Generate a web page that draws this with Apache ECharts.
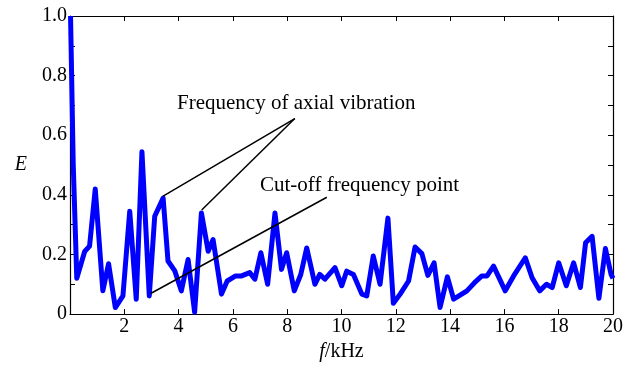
<!DOCTYPE html>
<html>
<head>
<meta charset="utf-8">
<script src="https://cdn.jsdelivr.net/npm/echarts@6/dist/echarts.min.js"></script>
<style>
html,body{margin:0;padding:0;background:#fff;}
#chart{width:629px;height:367px;}
</style>
</head>
<body>
<div id="chart"></div>
<script>
// Frequency (kHz)
const freq = [0.02, 0.12, 0.25, 0.54, 0.72, 0.93, 1.21, 1.42, 1.67, 1.95, 2.2, 2.44, 2.65, 2.92, 3.12, 3.43, 3.61, 3.86, 4.1, 4.35, 4.59, 4.84, 5.09, 5.27, 5.58, 5.79, 6.1, 6.32, 6.62, 6.81, 7.03, 7.28, 7.55, 7.79, 7.98, 8.26, 8.5, 8.72, 9.02, 9.2, 9.39, 9.76, 10.01, 10.19, 10.44, 10.75, 10.93, 11.17, 11.42, 11.71, 11.91, 12.16, 12.47, 12.71, 12.96, 13.18, 13.41, 13.63, 13.9, 14.13, 14.62, 14.95, 15.17, 15.36, 15.6, 16.03, 16.34, 16.77, 17.02, 17.3, 17.55, 17.76, 18.0, 18.28, 18.55, 18.8, 18.99, 19.23, 19.48, 19.72, 19.93, 20.0];
// E values
const eVal = [1.0, 0.5, 0.12, 0.21, 0.228, 0.42, 0.078, 0.169, 0.022, 0.061, 0.345, 0.05, 0.545, 0.061, 0.328, 0.389, 0.178, 0.145, 0.078, 0.183, 0.006, 0.339, 0.211, 0.25, 0.067, 0.111, 0.128, 0.128, 0.139, 0.117, 0.206, 0.1, 0.339, 0.15, 0.206, 0.078, 0.133, 0.222, 0.1, 0.133, 0.117, 0.156, 0.095, 0.144, 0.133, 0.067, 0.061, 0.195, 0.1, 0.322, 0.036, 0.067, 0.111, 0.225, 0.203, 0.13, 0.172, 0.022, 0.125, 0.05, 0.078, 0.11, 0.128, 0.128, 0.161, 0.078, 0.128, 0.189, 0.122, 0.078, 0.1, 0.089, 0.172, 0.095, 0.172, 0.089, 0.239, 0.261, 0.053, 0.22, 0.133, 0.12];
// Tick labels
const xTicks = ['2','4','6','8','10','12','14','16','18','20'];
const yTicks = ['0','0.2','0.4','0.6','0.8','1.0'];
// Annotations
const axialText = 'Frequency of axial vibration';
const axialFrom = [8.28, 0.656];
const axialTo = [[3.43, 0.396], [4.85, 0.349]];
const cutText = 'Cut-off frequency point';
const cutFrom = [9.46, 0.392];
const cutTo = [2.97, 0.069];

const FONT = 'Liberation Serif';
const chart = echarts.init(document.getElementById('chart'));
const seriesData = freq.map((f, i) => [f, eVal[i]]);

const annLines = axialTo.map(t => [{coord: axialFrom}, {coord: t}]);
annLines.push([{coord: cutFrom}, {coord: cutTo}]);

function xLab(v) {
  const s = String(Math.round(v));
  return xTicks.indexOf(s) >= 0 ? s : '';
}
function yLab(v) {
  const k = Math.round(v * 10);
  if (k % 2 !== 0) return '';
  return yTicks[k / 2];
}
const tickStyle = {show: true, inside: true, length: 5, lineStyle: {color: '#000', width: 1}};
const lineStyle = {show: true, onZero: false, lineStyle: {color: '#000', width: 1.2}};

chart.setOption({
  animation: false,
  backgroundColor: '#fff',
  grid: {left: 70, right: 16, top: 16, bottom: 50},
  xAxis: [{
    type: 'value', min: 0, max: 20, interval: 2, position: 'bottom',
    axisLine: lineStyle, axisTick: tickStyle, splitLine: {show: false},
    axisLabel: {formatter: xLab, color: '#000', fontFamily: FONT, fontSize: 20, margin: 3},
    name: '{i|f}/kHz', nameLocation: 'middle', nameGap: 26,
    nameTextStyle: {color: '#000', fontFamily: FONT, fontSize: 20,
      rich: {i: {fontStyle: 'italic', fontFamily: FONT, fontSize: 20, color: '#000'}}}
  }, {
    type: 'value', min: 0, max: 20, interval: 2, position: 'top',
    axisLine: lineStyle, axisTick: tickStyle, splitLine: {show: false},
    axisLabel: {show: false}
  }],
  yAxis: [{
    type: 'value', min: 0, max: 1, interval: 0.1, position: 'left',
    axisLine: lineStyle, axisTick: tickStyle, splitLine: {show: false},
    axisLabel: {formatter: yLab, color: '#000', fontFamily: FONT, fontSize: 20, margin: 3},
    name: 'E', nameLocation: 'middle', nameGap: 43, nameRotate: 0,
    nameTextStyle: {color: '#000', fontFamily: FONT, fontSize: 20, fontStyle: 'italic'}
  }, {
    type: 'value', min: 0, max: 1, interval: 0.1, position: 'right',
    axisLine: lineStyle, axisTick: tickStyle, splitLine: {show: false},
    axisLabel: {show: false}
  }],
  series: [{
    type: 'line',
    data: seriesData,
    showSymbol: false,
    symbol: 'none',
    lineStyle: {color: '#0000ff', width: 5, join: 'round'},
    itemStyle: {color: '#0000ff'},
    markLine: {
      silent: true, symbol: ['none', 'none'],
      label: {show: false},
      lineStyle: {color: '#000', width: 1.5, type: 'solid'},
      data: annLines
    }
  }],
  graphic: [
    {type: 'text', left: 177, top: 93, style: {text: axialText, font: '21px "Liberation Serif"', fill: '#000'}},
    {type: 'text', left: 260, top: 175, style: {text: cutText, font: '21px "Liberation Serif"', fill: '#000'}}
  ]
});
</script>
</body>
</html>
